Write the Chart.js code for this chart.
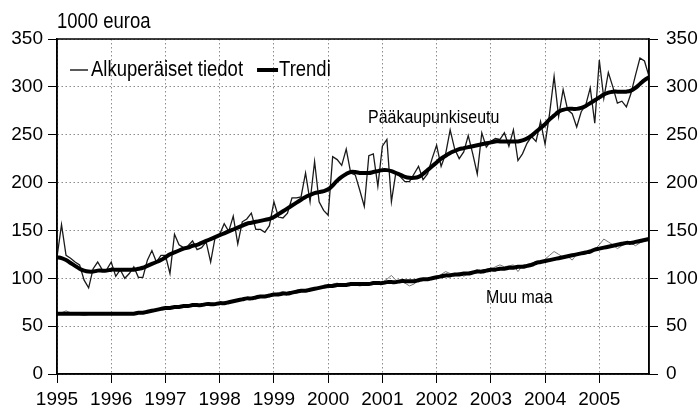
<!DOCTYPE html>
<html lang="fi">
<head>
<meta charset="UTF-8">
<title>Pääkaupunkiseutu ja muu maa</title>
<script src="https://cdn.jsdelivr.net/npm/chart.js"></script>
<style>
  html, body { margin: 0; padding: 0; background: #fff; }
</style>
</head>
<body>
<canvas id="chart" width="700" height="412"></canvas>
<script>
// vuodet x-akselilla, kuukausittaiset arvot (1000 euroa)
const years = [1995, 1996, 1997, 1998, 1999, 2000, 2001, 2002, 2003, 2004, 2005];
const monthNames = ['01', '02', '03', '04', '05', '06', '07', '08', '09', '10', '11', '12'];
const yTicks = [0, 50, 100, 150, 200, 250, 300, 350];

const capitalRaw = [
  122, 156, 124, 121, 117, 114, 98, 90, 110, 117, 109, 109,
  117, 102, 109, 100, 105, 112, 101, 101, 119, 129, 117, 124,
  124, 105, 146, 135, 132, 134, 139, 130, 132, 138, 117, 143,
  146, 157, 149, 165, 136, 159, 162, 168, 151, 151, 148, 155,
  180, 164, 163, 168, 184, 184, 185, 210, 180, 222, 180, 171,
  166, 227, 224, 218, 235, 210, 208, 192, 175, 228, 230, 196,
  238, 245, 180, 211, 206, 201, 201, 209, 217, 203, 209, 225,
  239, 217, 230, 255, 235, 225, 232, 249, 230, 209, 252, 237,
  243, 246, 245, 252, 238, 255, 223, 230, 241, 248, 243, 264,
  240, 272, 311, 269, 297, 276, 272, 258, 274, 281, 299, 262,
  328, 288, 315, 300, 283, 285, 279, 293, 312, 330, 327, 311
];
const capitalTrend = [
  122, 121, 119, 116, 113, 110, 108, 107, 107, 108, 108, 108,
  109, 109, 109, 109, 109, 109, 110, 111, 113, 115, 117, 119,
  122, 125, 127, 129, 131, 132, 134, 135, 137, 139, 141, 143,
  145, 147, 149, 151, 153, 155, 157, 158, 159, 160, 161, 162,
  164, 167, 170, 173, 176, 179, 182, 185, 187, 189, 190, 191,
  193, 197, 202, 206, 209, 211, 211, 210, 210, 210, 211, 212,
  213, 213, 212, 210, 208, 206, 205, 205, 206, 209, 213, 217,
  221, 225, 228, 231, 233, 235, 236, 237, 238, 239, 240, 241,
  242, 243, 243, 243, 243, 243, 243, 244, 246, 249, 253, 257,
  261, 266, 270, 274, 276, 277, 277, 277, 278, 280, 283, 286,
  289, 292, 294, 295, 295, 295, 295, 296, 299, 303, 307, 310
];
const otherRaw = [
  63, 64, 66, 64, 63, 62, 61, 62, 63, 64, 63, 63,
  63, 62, 64, 63, 63, 64, 64, 65, 65, 67, 67, 68,
  69, 70, 69, 71, 71, 72, 72, 73, 71, 73, 74, 73,
  74, 75, 74, 77, 77, 79, 78, 80, 80, 82, 81, 82,
  83, 85, 86, 84, 85, 87, 86, 87, 88, 88, 90, 92,
  92, 94, 95, 93, 92, 94, 93, 92, 93, 94, 96, 95,
  96, 99, 103, 98, 97, 95, 92, 94, 98, 100, 99, 100,
  101, 104, 107, 105, 104, 106, 102, 105, 107, 109, 106, 108,
  109, 112, 114, 112, 113, 114, 107, 113, 114, 116, 117, 116,
  120, 124, 128, 125, 122, 123, 119, 125, 126, 128, 129, 130,
  135, 141, 138, 135, 131, 134, 136, 137, 134, 137, 139, 141
];
const otherTrend = [
  63, 63, 63, 63, 63, 63, 63, 63, 63, 63, 63, 63,
  63, 63, 63, 63, 63, 63, 64, 64, 65, 66, 67, 68,
  69, 69, 70, 70, 71, 71, 72, 72, 72, 73, 73, 73,
  74, 74, 75, 76, 77, 78, 79, 79, 80, 81, 81, 82,
  83, 83, 84, 84, 85, 86, 87, 87, 88, 89, 90, 91,
  92, 92, 93, 93, 93, 94, 94, 94, 94, 94, 95, 95,
  95, 96, 96, 96, 97, 97, 97, 97, 98, 99, 99, 100,
  101, 102, 103, 103, 104, 104, 105, 105, 106, 107, 107, 108,
  109, 109, 110, 110, 111, 111, 112, 112, 113, 114, 116, 117,
  118, 119, 120, 121, 122, 123, 124, 125, 126, 127, 128, 130,
  131, 132, 133, 134, 135, 136, 137, 137, 138, 139, 140, 141
];

const months = years.flatMap(y => monthNames.map(m => y + '-' + m));

const FONT = "'Liberation Sans', Arial, sans-serif";
const GRID = 'rgba(0,0,0,0.45)';

// kapeampi teksti: piirretään vaakasuunnassa puristettuna
function narrowText(ctx, text, x, y, size) {
  ctx.save();
  ctx.font = size + 'px ' + FONT;
  ctx.translate(x, y);
  ctx.scale(0.84, 1);
  ctx.fillText(text, 0, 0);
  const w = ctx.measureText(text).width * 0.84;
  ctx.restore();
  return w;
}

// kehys, otsikko, selite ja sarjojen nimet
const extras = {
  id: 'extras',
  afterDatasetsDraw(chart) {
    const { ctx, chartArea: a } = chart;
    ctx.save();
    ctx.strokeStyle = '#000';
    ctx.lineWidth = 1.5;
    ctx.strokeRect(a.left, a.top, a.right - a.left, a.bottom - a.top);

    ctx.fillStyle = '#000';
    ctx.textBaseline = 'middle';
    narrowText(ctx, '1000 euroa', 57, 22, 22);

    // selite
    ctx.lineWidth = 1.3;
    ctx.beginPath(); ctx.moveTo(70, 70); ctx.lineTo(88, 70); ctx.stroke();
    const w1 = narrowText(ctx, 'Alkuperäiset tiedot', 91, 70, 22);
    const x2 = 91 + w1 + 14;
    ctx.lineWidth = 4;
    ctx.beginPath(); ctx.moveTo(x2, 70); ctx.lineTo(x2 + 21, 70); ctx.stroke();
    narrowText(ctx, 'Trendi', x2 + 22, 70, 22);

    narrowText(ctx, 'Pääkaupunkiseutu', 368, 118, 19);
    narrowText(ctx, 'Muu maa', 486, 298, 19);
    ctx.restore();
  }
};

new Chart(document.getElementById('chart'), {
  type: 'line',
  data: {
    labels: months,
    datasets: [
      { label: 'Pääkaupunkiseutu, trendi', data: capitalTrend, borderColor: '#000', borderWidth: 4, tension: 0.4, order: 1 },
      { label: 'Muu maa, trendi', data: otherTrend, borderColor: '#000', borderWidth: 4, tension: 0.4, order: 1 },
      { label: 'Pääkaupunkiseutu', data: capitalRaw, borderColor: '#1a1a1a', borderWidth: 1.3, tension: 0, order: 2 },
      { label: 'Muu maa', data: otherRaw, borderColor: '#777', borderWidth: 1, tension: 0, order: 2 }
    ]
  },
  options: {
    responsive: false,
    animation: false,
    layout: { padding: { top: 39 } },
    elements: { point: { radius: 0 } },
    plugins: { legend: { display: false }, tooltip: { enabled: false } },
    scales: {
      x: {
        offset: false,
        afterFit: s => { s.height = 38; },
        border: { display: true, color: '#000', width: 1.5, dash: [1.5, 2.5] },
        grid: {
          color: c => (c.index % 12 === 0 ? GRID : 'transparent'),
          tickColor: c => (c.index % 12 === 0 ? '#000' : 'transparent'),
          tickLength: 9,
          lineWidth: 1
        },
        ticks: {
          autoSkip: false,
          maxRotation: 0,
          padding: 5,
          color: '#000',
          font: { family: FONT, size: 19 },
          callback: (v, i) => (i % 12 === 0 ? months[i].slice(0, 4) : '')
        }
      },
      y: {
        min: 0, max: 350,
        afterFit: s => { s.width = 57; },
        afterBuildTicks: s => { s.ticks = yTicks.map(v => ({ value: v })); },
        border: { display: true, color: '#000', width: 1.5, dash: [1.5, 2.5] },
        grid: { color: GRID, tickColor: '#000', tickLength: 9, lineWidth: 1 },
        ticks: { padding: 5, color: '#000', font: { family: FONT, size: 19 } }
      },
      y2: {
        position: 'right',
        min: 0, max: 350,
        afterFit: s => { s.width = 51; },
        afterBuildTicks: s => { s.ticks = yTicks.map(v => ({ value: v })); },
        border: { display: true, color: '#000', width: 1.5 },
        grid: { drawOnChartArea: false, tickColor: '#000', tickLength: 9 },
        ticks: { padding: 8, color: '#000', font: { family: FONT, size: 19 } }
      }
    }
  },
  plugins: [extras]
});
</script>
</body>
</html>
